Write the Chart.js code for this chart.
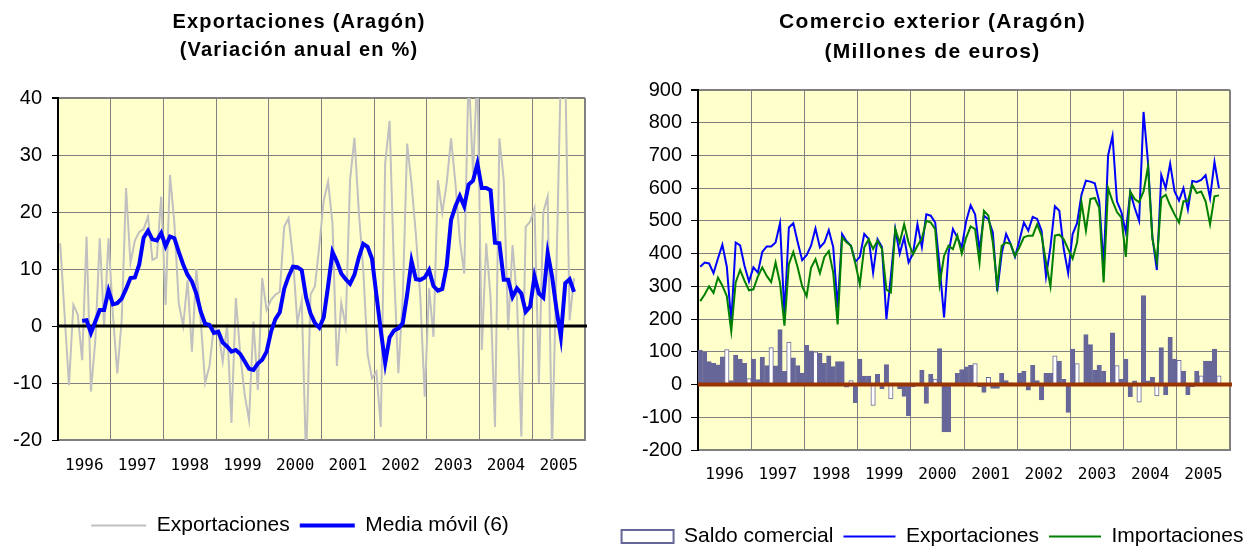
<!DOCTYPE html>
<html lang="es">
<head>
<meta charset="UTF-8">
<title>Exportaciones y comercio exterior (Aragón)</title>
<script src="https://cdn.jsdelivr.net/npm/chart.js@4"></script>
<style>
  html, body { margin: 0; padding: 0; background: #fff; overflow: hidden; }
  #izq { position: absolute; left: 0; top: 0; }
  #der { position: absolute; left: 606px; top: 0; }
</style>
</head>
<body>
<canvas id="izq" width="600" height="546"></canvas>
<canvas id="der" width="653" height="557"></canvas>

<script>
// años del eje X (datos mensuales, ene-1996 a oct-2005)
const years = [1996, 1997, 1998, 1999, 2000, 2001, 2002, 2003, 2004, 2005];
const months = [];
years.forEach(y => { for (let m = 1; m <= 12; m++) months.push(m + '/' + y); });

// Exportaciones: variación anual en %
const exportVar = [
  14.5, 2, -10.4, 3.7, 2, -6, 15.7, -11.5, -2.5, 15.4,
  0, 15.4, 2, -8.3, 1, 24.2, 11, 15, 16.5, 17,
  19.2, 11.6, 12, 22.7, 3.7, 26.5, 18, 4, 0, 8,
  -4.5, 10, 1, -10, -7, 0, -1, -6.3, 0.3, -17,
  4.9, -5, -12, -16.5, 0.8, -11.2, 8.4, 2.8, 4.6, 5.5,
  6, 17.4, 18.9, 12, 0.5, 4.5, -24, 5.5, 7, 14,
  22, 25.3, 18, -7, 4, 0, 25.6, 33, 20, 10,
  -5, -9.2, -8, -17.7, 28.5, 36, 10, -8.3, 5, 32,
  25, 16, 5, -12.4, 6.6, -1.9, 25.6, 19.8, 25, 32.9,
  25, 15, 9.2, 45, 26.8, 45, -4.2, 14.5, 5, -17.7,
  32.9, 25.6, -0.7, 14.2, 5, -19.4, 17.4, 18.3, 20.6, -10,
  20, 22.7, -22, 10, 45, 45, 1, 8.4
];

// Media móvil (6)
const mediaMovil = [
  null, null, null, null, null, 0.9, 1.0, -1.2, 0.8, 2.8,
  2.8, 6.2, 3.8, 4.0, 4.8, 6.5, 8.4, 8.5, 10.8, 15.5,
  16.7, 15.2, 15.0, 16.3, 14.0, 15.7, 15.4, 13.0, 10.8, 9.0,
  7.8, 5.7, 2.5, 0.4, 0.2, -1.2, -1.0, -2.9, -3.6, -4.5,
  -4.2, -4.9, -6.2, -7.5, -7.7, -6.6, -5.9, -4.5, -1.0, 1.2,
  2.4, 6.5, 8.7, 10.4, 10.3, 9.8, 5.0, 2.2, 0.5, -0.3,
  1.5, 7.0, 13.0, 11.3, 9.2, 8.2, 7.4, 9.0, 12.0, 14.4,
  13.9, 11.8, 5.5, -0.8, -6.5, -2.0, -0.8, -0.4, 0.5, 5.5,
  11.4, 8.2, 8.1, 8.5, 9.8, 7.0, 6.2, 6.5, 10.5, 18.6,
  21.0, 22.8, 21.0, 24.8, 25.5, 28.5, 24.2, 24.2, 23.8, 14.6,
  14.5, 8.1, 8.1, 5.1, 6.6, 5.7, 2.5, 3.4, 8.7, 5.7,
  5.0, 12.8, 8.7, 3.0, -1.9, 7.5, 8.2, 6.0
];

// Comercio exterior, millones de euros
const saldo = [
  105, 100, 70, 65, 60, 85, 107, 12, 90, 78,
  65, 18, 78, 15, 83, 58, 113, 57, 168, 40,
  130, 82, 58, 35, 120, 103, 100, 95, 65, 88,
  55, 70, 70, -8, 12, -55, 78, 26, 26, -64,
  31, -13, 61, -44, 0, -13, -36, -95, -7, 2,
  44, -58, 31, 17, 110, -145, -145, 0, 34, 46,
  54, 59, 64, -7, -24, 22, -12, -12, 34, 12,
  5, -4, 34, 41, -17, 59, 12, -47, 34, 34,
  88, 72, 16, -85, 108, 64, 5, 153, 122, 44,
  59, 41, 5, 158, 58, 17, 78, -37, 11, -54,
  272, 11, 22, -35, 113, -31, 144, 78, 74, 41,
  -31, -7, 41, 27, 72, 72, 108, 27
];

const exportaciones = [
  360, 373, 370, 340, 385, 427, 360, 190, 434, 425,
  362, 315, 358, 342, 405, 422, 422, 434, 493, 214,
  480, 493, 434, 380, 395, 424, 477, 419, 434, 472,
  420, 235, 460, 438, 424, 375, 390, 460, 445, 342,
  444, 420, 200, 330, 475, 400, 449, 373, 400, 490,
  420, 520, 516, 495, 362, 205, 400, 475, 449, 420,
  500, 548, 520, 410, 516, 505, 465, 285, 400, 460,
  430, 390, 440, 495, 470, 512, 506, 470, 330, 420,
  545, 531, 414, 340, 460, 493, 580, 623, 620, 615,
  560, 363, 700, 760, 560, 527, 465, 588, 540, 500,
  833, 680, 450, 350, 640, 600, 675, 590, 562, 600,
  535, 622, 619, 625, 640, 570, 680, 600
];

const importaciones = [
  255, 275, 300, 280, 327, 302, 270, 163, 312, 350,
  317, 288, 291, 330, 358, 332, 313, 373, 310, 180,
  368, 405, 357, 300, 270, 357, 383, 340, 390, 408,
  342, 184, 449, 435, 424, 370, 306, 419, 444, 414,
  440, 414, 290, 281, 475, 434, 490, 434, 398, 424,
  446, 500, 495, 475, 305, 393, 424, 414, 455, 400,
  449, 483, 475, 373, 531, 516, 434, 301, 424, 434,
  430, 393, 419, 450, 455, 455, 490, 455, 373, 300,
  455, 458, 444, 414, 385, 434, 557, 470, 567, 570,
  540, 312, 600, 560, 527, 510, 390, 590, 567, 557,
  590, 665, 445, 375, 570, 580, 547, 520, 495, 560,
  560, 610, 585, 590, 560, 490, 575, 578
];

// barras que en el original salen huecas (solo borde)
const hollowBars = [6, 11, 16, 20, 26, 34, 39, 43, 53, 62, 65, 80, 85, 94, 99, 103, 108, 113, 117];

Chart.defaults.font.family = "'Liberation Sans', Arial, sans-serif";
Chart.defaults.color = '#000';

// fondo amarillo del área de trazado
const fondo = {
  id: 'fondo',
  beforeDraw(chart) {
    const { ctx, chartArea: a } = chart;
    ctx.save();
    ctx.fillStyle = '#FFFFCC';
    ctx.fillRect(a.left, a.top, a.right - a.left, a.bottom - a.top);
    ctx.restore();
  }
};

// línea gruesa en el valor 0, dibujada justo después de una serie
const lineaCero = {
  id: 'lineaCero',
  afterDatasetDraw(chart, args, opts) {
    if (args.index !== opts.after) return;
    const { ctx, chartArea: a } = chart;
    const y = chart.scales.y.getPixelForValue(0);
    ctx.save();
    ctx.strokeStyle = opts.color;
    ctx.lineWidth = opts.width;
    ctx.beginPath();
    ctx.moveTo(a.left, y);
    ctx.lineTo(a.right + 2, y);
    ctx.stroke();
    ctx.restore();
  }
};

// título en dos líneas, con el espaciado de letras del original
const titulo = {
  id: 'titulo',
  afterDraw(chart, args, o) {
    const ctx = chart.ctx;
    ctx.save();
    ctx.font = 'bold ' + o.size + "px 'Liberation Sans', Arial, sans-serif";
    if ('letterSpacing' in ctx) ctx.letterSpacing = o.spacing + 'px';
    ctx.fillStyle = '#000';
    ctx.textAlign = 'center';
    ctx.textBaseline = 'middle';
    o.lines.forEach((t, i) => ctx.fillText(t, chart.width / 2 + o.dx, o.y[i]));
    ctx.restore();
  }
};

function ejeX(pad, alto) {
  return {
    offset: true,
    grid: {
      offset: true,
      drawTicks: false,
      color: c => (c.type === 'scale' || c.index % 12 === 0) ? '#808080' : 'rgba(0,0,0,0)',
      lineWidth: c => c.type === 'scale' ? 2 : 1
    },
    border: { color: '#808080', width: 2 },
    ticks: {
      autoSkip: false,
      maxRotation: 0,
      minRotation: 0,
      padding: pad,
      labelOffset: -2.2,
      color: '#000',
      font: { family: "'DejaVu Sans Mono', monospace", size: 16 },
      callback: (v, i) => i % 12 === 6 ? String(years[Math.floor(i / 12)]) : ''
    },
    afterFit: s => { s.height = alto; }
  };
}

function ejeY(min, max, step, ancho, pad, tick) {
  return {
    min: min,
    max: max,
    ticks: { stepSize: step, padding: pad, color: '#000', font: { size: 20 } },
    grid: {
      color: '#808080',
      tickColor: '#000',
      tickLength: tick,
      lineWidth: c => (c.tick && c.tick.value === max) ? 2 : 1
    },
    border: { color: '#000', width: 2 },
    afterFit: s => { s.width = ancho; }
  };
}

function margen(ancho) {
  return {
    position: 'right',
    display: true,
    grid: { display: false },
    ticks: { display: false },
    border: { display: false },
    afterFit: s => { s.width = ancho; }
  };
}

const porIndice = (a, b) => a.datasetIndex - b.datasetIndex;

// ---- Exportaciones (variación anual) ----
new Chart(document.getElementById('izq'), {
  type: 'line',
  data: {
    labels: months,
    datasets: [
      {
        label: 'Exportaciones',
        data: exportVar,
        borderColor: '#C0C0C0',
        backgroundColor: '#C0C0C0',
        borderWidth: 2,
        pointRadius: 0,
        pointStyle: 'line',
        tension: 0,
        order: 1,
        yAxisID: 'y'
      },
      {
        label: 'Media móvil (6)',
        data: mediaMovil,
        borderColor: '#0000FF',
        backgroundColor: '#0000FF',
        borderWidth: 4,
        pointRadius: 0,
        pointStyle: 'line',
        tension: 0,
        order: 0,
        yAxisID: 'y'
      }
    ]
  },
  options: {
    responsive: false,
    animation: false,
    devicePixelRatio: 1,
    events: [],
    layout: { padding: { top: 98 } },
    scales: {
      x: ejeX(16, 65),
      y: ejeY(-20, 40, 10, 58, 10, 6),
      y2: margen(15)
    },
    plugins: {
      title: { display: false },
      titulo: {
        lines: ['Exportaciones (Aragón)', '(Variación anual en %)'],
        size: 20, spacing: 1.2, dx: -1, y: [22, 50]
      },
      legend: {
        position: 'bottom',
        labels: {
          usePointStyle: true,
          pointStyleWidth: 55,
          boxHeight: 13,
          padding: 10,
          color: '#000',
          font: { size: 21 },
          sort: porIndice
        }
      },
      tooltip: { enabled: false },
      lineaCero: { after: 0, color: '#000', width: 3 }
    }
  },
  plugins: [fondo, lineaCero, titulo]
});

// ---- Comercio exterior ----
new Chart(document.getElementById('der'), {
  type: 'bar',
  data: {
    labels: months,
    datasets: [
      {
        type: 'bar',
        label: 'Saldo comercial',
        data: saldo,
        backgroundColor: c => hollowBars.includes(c.dataIndex) ? '#FFFFFF' : '#666699',
        borderColor: '#666699',
        borderWidth: 1,
        barPercentage: 1,
        categoryPercentage: 1,
        pointStyle: 'rect',
        order: 2,
        yAxisID: 'y'
      },
      {
        type: 'line',
        label: 'Exportaciones',
        data: exportaciones,
        borderColor: '#0000FF',
        backgroundColor: '#0000FF',
        borderWidth: 2,
        pointRadius: 0,
        pointStyle: 'line',
        tension: 0,
        order: 1,
        yAxisID: 'y'
      },
      {
        type: 'line',
        label: 'Importaciones',
        data: importaciones,
        borderColor: '#008000',
        backgroundColor: '#008000',
        borderWidth: 2,
        pointRadius: 0,
        pointStyle: 'line',
        tension: 0,
        order: 0,
        yAxisID: 'y'
      }
    ]
  },
  options: {
    responsive: false,
    animation: false,
    devicePixelRatio: 1,
    events: [],
    layout: { padding: { top: 90 } },
    scales: {
      x: ejeX(15, 66),
      y: ejeY(-200, 900, 100, 92, 9, 7),
      y2: margen(29)
    },
    plugins: {
      title: { display: false },
      titulo: {
        lines: ['Comercio exterior (Aragón)', '(Millones de euros)'],
        size: 21, spacing: 1.3, dx: 0, y: [22, 52]
      },
      legend: {
        position: 'bottom',
        labels: {
          usePointStyle: true,
          pointStyleWidth: 52,
          boxHeight: 13,
          padding: 10,
          color: '#000',
          font: { size: 21 },
          sort: porIndice,
          generateLabels: chart => {
            const items = Chart.defaults.plugins.legend.labels.generateLabels(chart);
            items.forEach(it => {
              if (it.datasetIndex === 0) {
                it.fillStyle = '#FFFFFF';
                it.strokeStyle = '#666699';
                it.lineWidth = 2;
              }
            });
            return items;
          }
        }
      },
      tooltip: { enabled: false },
      lineaCero: { after: 0, color: '#993300', width: 4 }
    }
  },
  plugins: [fondo, lineaCero, titulo]
});
</script>
</body>
</html>
